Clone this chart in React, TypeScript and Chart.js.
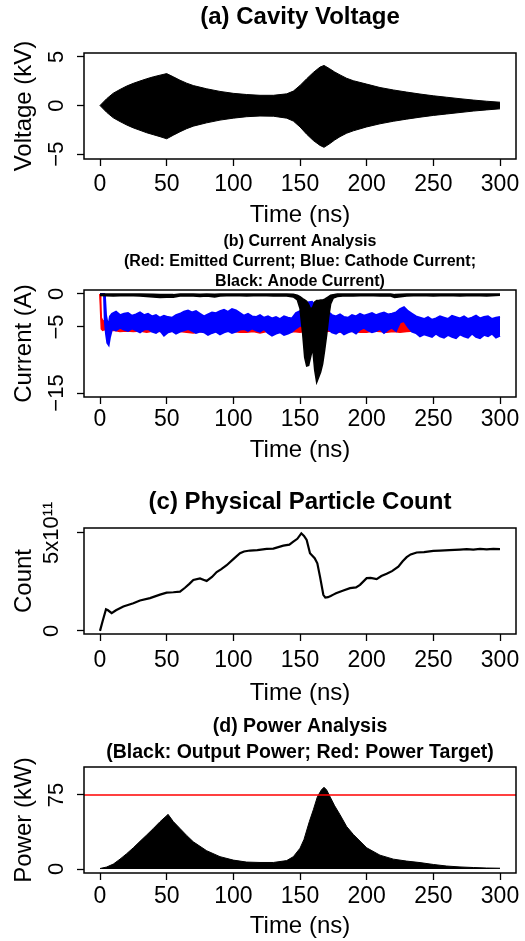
import React, { useEffect, useRef } from 'react';
import { Chart, registerables } from 'chart.js';

Chart.register(...registerables);

const FONT = "'Liberation Sans', Arial, Helvetica, sans-serif";

// ---------- shared x axis ----------
const X_MIN = -12;
const X_MAX = 312;
const X_TICKS = [0, 50, 100, 150, 200, 250, 300];

// ---------- (a) cavity voltage envelope (kV) ----------
const VOLT_T = [0, 5, 10, 15, 20, 25, 30, 35, 40, 45, 50, 55, 60, 65, 70, 80, 90, 100, 110, 120, 130, 140, 145, 150, 155, 160, 165, 168, 172, 176, 180, 185, 190, 200, 210, 220, 230, 240, 250, 260, 270, 280, 290, 300];
const VOLT_HI = [0, 0.7, 1.27, 1.65, 2.0, 2.28, 2.52, 2.75, 2.95, 3.12, 3.28, 2.95, 2.6, 2.3, 2.05, 1.72, 1.45, 1.25, 1.13, 1.05, 1.05, 1.2, 1.48, 2.06, 2.75, 3.4, 3.95, 4.12, 3.8, 3.45, 3.15, 2.8, 2.55, 2.2, 1.85, 1.6, 1.38, 1.18, 1.0, 0.85, 0.7, 0.56, 0.44, 0.34];
const VOLT_LO = [0, -0.7, -1.27, -1.65, -2.0, -2.3, -2.55, -2.8, -3.0, -3.2, -3.42, -3.05, -2.7, -2.38, -2.12, -1.78, -1.5, -1.3, -1.15, -1.08, -1.1, -1.3, -1.6, -2.2, -2.95, -3.6, -4.1, -4.3, -3.95, -3.55, -3.2, -2.85, -2.6, -2.2, -1.88, -1.62, -1.4, -1.2, -1.02, -0.87, -0.72, -0.57, -0.45, -0.34];
const VOLT_TICKS = [-5, 0, 5];

// ---------- (b) currents (A) ----------
const EMIT_T = [0, 0.4, 1, 2, 3.5, 5, 10, 15, 20, 25, 30, 35, 40, 45, 50, 55, 60, 65, 70, 75, 80, 85, 90, 95, 100, 105, 110, 115, 120, 125, 130, 135, 140, 145, 150, 155, 160, 165, 170, 175, 180, 185, 190, 195, 200, 205, 210, 215, 220, 225, 230, 235, 240, 245, 250, 255, 260, 265, 270, 275, 280, 285, 290, 295, 300];
const EMIT_HI = [0, -1.0, -3.6, -4.0, -4.2, -4.2, -4.2, -4.3, -4.2, -4.2, -4.3, -4.2, -4.2, -4.3, -4.2, -4.2, -4.2, -4.1, -4.2, -4.2, -4.3, -4.2, -4.2, -4.2, -4.3, -4.2, -4.2, -4.2, -4.3, -4.2, -4.2, -4.2, -4.3, -4.1, -3.9, -4.0, -4.2, -4.2, -4.2, -4.3, -4.2, -4.2, -4.2, -4.1, -4.2, -4.2, -4.2, -4.2, -4.1, -3.8, -4.0, -4.2, -4.2, -4.3, -4.2, -4.2, -4.3, -4.2, -4.2, -4.2, -4.3, -4.2, -4.2, -4.2, -4.2];
const EMIT_LO = [0, -2.5, -5.3, -5.5, -5.4, -5.6, -5.5, -5.7, -5.6, -5.7, -5.6, -5.8, -5.6, -5.7, -5.8, -5.6, -5.7, -5.8, -5.9, -5.7, -5.8, -5.7, -5.8, -5.6, -5.7, -5.8, -5.8, -5.7, -5.9, -5.7, -5.8, -5.7, -5.8, -5.7, -5.8, -5.6, -5.7, -5.8, -5.6, -5.7, -5.8, -5.6, -5.7, -5.8, -5.8, -5.6, -5.7, -5.8, -5.7, -5.8, -5.7, -5.6, -5.7, -5.6, -5.7, -5.6, -5.7, -5.6, -5.7, -5.6, -5.7, -5.6, -5.7, -5.6, -5.7];

const CATH_T = [0, 3, 3.6, 4.5, 5.5, 6.5, 7.5, 9, 12, 15, 18, 21, 24, 27, 30, 33, 36, 39, 42, 45, 48, 51, 54, 57, 60, 63, 66, 69, 72, 75, 78, 81, 84, 87, 90, 93, 96, 99, 102, 105, 108, 111, 114, 117, 120, 123, 126, 129, 132, 135, 138, 141, 144, 147, 150, 153, 156, 159, 162, 165, 168, 171, 174, 177, 180, 183, 186, 189, 192, 195, 198, 201, 204, 207, 210, 213, 216, 219, 222, 225, 228, 231, 234, 237, 240, 243, 246, 249, 252, 255, 258, 261, 264, 267, 270, 273, 276, 279, 282, 285, 288, 291, 294, 297, 300];
const CATH_HI = [0, 0, -0.1, -3.2, -4.3, -4.6, -3.4,
  -3.0, -2.7, -3.2, -3.0, -2.9, -3.3, -3.1, -2.8, -3.2, -3.0,
  -3.4, -3.2, -3.6, -3.3, -3.5, -3.6, -3.2, -3.0, -2.7, -2.5,
  -2.8, -2.6, -3.0, -3.4, -3.1, -2.8, -2.9, -2.6, -2.4, -2.7,
  -2.3, -2.5, -2.9, -3.3, -3.0, -3.4, -3.5, -3.2, -3.6, -3.4,
  -3.7, -3.5, -3.8, -3.4, -3.6, -3.7, -2.9, -2.6, -2.0, -1.3,
  -1.2, -1.8, -2.3, -2.0, -2.7, -3.2, -3.4, -3.1, -3.5, -3.6,
  -3.2, -3.4, -3.0, -3.3, -3.1, -2.9, -3.2, -3.0, -2.8, -3.1,
  -3.0, -2.8, -2.3, -2.0, -2.6, -3.0, -3.4, -3.6, -3.8, -3.5,
  -3.9, -3.7, -3.4, -3.6, -3.8, -3.3, -3.5, -3.7, -3.4, -3.8,
  -3.6, -3.3, -3.7, -3.5, -3.4, -3.8, -3.6, -3.5];
const CATH_LO = [0, 0, -4.0, -6.0, -7.4, -7.7, -6.5,
  -5.3, -5.5, -5.1, -5.4, -5.6, -5.2, -5.5, -5.8, -5.4, -5.3,
  -5.7, -5.9, -5.5, -6.3, -5.8, -5.6, -6.0, -5.7, -5.5, -5.3,
  -5.6, -5.9, -5.7, -5.8, -6.2, -5.9, -5.7, -6.1, -5.8, -5.6,
  -5.9, -5.7, -5.4, -5.3, -5.6, -5.2, -5.5, -5.7, -5.3, -5.9,
  -6.3, -6.0, -5.8, -6.2, -6.0, -5.7, -5.2, -4.8, -5.0, -4.6,
  -4.9, -5.3, -5.1, -5.5, -5.3, -5.8, -6.0, -5.6, -6.1, -5.8,
  -5.6, -6.0, -5.4, -5.1, -5.5, -5.8, -5.6, -5.3, -5.9, -5.4,
  -5.1, -5.6, -4.3, -4.1, -5.0, -5.7, -5.9, -6.4, -6.1, -6.3,
  -6.5, -6.0, -6.4, -6.6, -6.2, -6.5, -6.7, -6.1, -6.4, -6.6,
  -6.0, -6.5, -6.7, -6.2, -6.4, -6.0, -6.6, -6.3];

const ANODE_T = [0, 10, 20, 30, 40, 45, 50, 55, 60, 70, 75, 80, 86, 90, 100, 110, 120, 130, 140, 145, 148, 150, 152, 153.5, 155, 156.5, 158, 159.5, 161, 162.5, 164, 165.5, 167, 168.5, 170, 171.5, 173, 175, 178, 182, 190, 200, 210, 218, 221, 230, 240, 250, 260, 270, 280, 290, 300];
const ANODE_HI = [0, 0, 0, 0, -0.05, -0.1, -0.1, -0.1, 0, 0, -0.05, 0, -0.05, 0, 0, 0, 0, 0, 0, -0.05, -0.2, -0.4, -0.7, -0.9, -1.1, -1.6, -2.3, -2.0, -1.2, -1.0, -1.0, -0.9, -0.9, -0.8, -0.6, -0.4, -0.2, -0.1, 0, 0, 0, 0, 0, 0, -0.1, 0, 0, 0, 0, 0, 0, 0, 0];
const ANODE_LO = [-0.25, -0.3, -0.25, -0.3, -0.45, -0.55, -0.5, -0.5, -0.3, -0.3, -0.4, -0.3, -0.45, -0.3, -0.25, -0.3, -0.25, -0.3, -0.3, -0.45, -0.9, -2.2, -6.0, -9.6, -10.9, -10.8, -9.5, -8.2, -11.5, -13.4, -12.6, -11.8, -10.6, -8.5, -6.2, -3.5, -1.5, -0.6, -0.4, -0.3, -0.3, -0.25, -0.3, -0.3, -0.55, -0.3, -0.25, -0.3, -0.25, -0.3, -0.25, -0.3, -0.2];
const CURRENT_TICKS = [-15, -5, 0];

// ---------- (c) physical particle count ----------
const COUNT_T = [0, 2, 4.5, 6, 8.75, 12, 17.5, 25, 30, 37.5, 45, 50, 55, 60, 63.75, 67, 70, 75, 78, 80, 84, 87.5, 91, 95, 100, 105, 108, 112.5, 118, 125, 130, 137.5, 142, 145, 148, 151, 153, 155, 157.5, 161, 163, 165, 167.5, 169, 171, 173, 175, 177, 182, 187.5, 192, 195, 200, 203, 207.5, 211, 215, 219, 223.75, 227, 230, 233, 237.5, 243, 250, 255, 262, 270, 275, 280, 285, 290, 295, 300];
const COUNT = [0, 0.5e11, 1.1e11, 1.05e11, 0.9e11, 1.05e11, 1.24e11, 1.41e11, 1.55e11, 1.67e11, 1.85e11, 1.95e11, 1.97e11, 2.0e11, 2.2e11, 2.4e11, 2.6e11, 2.68e11, 2.6e11, 2.55e11, 2.75e11, 3.0e11, 3.15e11, 3.35e11, 3.66e11, 3.96e11, 4.05e11, 4.1e11, 4.12e11, 4.18e11, 4.2e11, 4.35e11, 4.4e11, 4.55e11, 4.7e11, 4.98e11, 4.85e11, 4.64e11, 3.96e11, 3.71e11, 3.45e11, 2.77e11, 1.84e11, 1.7e11, 1.72e11, 1.78e11, 1.85e11, 1.92e11, 2.05e11, 2.18e11, 2.22e11, 2.35e11, 2.69e11, 2.7e11, 2.64e11, 2.8e11, 2.91e11, 3.05e11, 3.28e11, 3.55e11, 3.76e11, 3.9e11, 4.0e11, 4.02e11, 4.08e11, 4.1e11, 4.12e11, 4.15e11, 4.17e11, 4.15e11, 4.18e11, 4.16e11, 4.18e11, 4.17e11];
const COUNT_TICKS = [0, 5e11];

// ---------- (d) power (kW) ----------
const POWER_T = [0, 5, 10, 15, 20, 25, 30, 35, 40, 45, 50, 51, 55, 60, 65, 70, 80, 90, 100, 110, 120, 130, 140, 145, 150, 153, 157, 160, 163, 166, 168, 170, 173, 176, 180, 185, 190, 200, 210, 220, 230, 240, 250, 260, 270, 280, 290, 300];
const POWER_KW = [0.5, 2, 5, 10, 15.5, 21.5, 28, 34.4, 41, 47.9, 54, 55.4, 48, 41, 34, 27.5, 18.5, 12.5, 9, 7, 6.6, 6.6, 8.5, 12.5, 21, 30, 48, 60, 73, 80, 82.8, 80, 72, 64, 55, 43, 35, 21.5, 14, 10, 8, 6.5, 4.6, 3, 2.1, 1.5, 1.0, 0.8];
const POWER_TARGET = 75;
const POWER_TICKS = [0, 75];

// ---------- helpers ----------
const PLOT_LEFT = 84;
const PLOT_RIGHT_PAD = 9;
const TICK_LEN = 7;
const Y_TICK_FONT = 22;
const X_TICK_FONT = 23;
const AXIS_TITLE_FONT = 24;

function pts(xs: number[], ys: number[]) {
  return xs.map((x, i) => ({ x, y: ys[i] }));
}

const SUP: Record<string, string> = { '0': '\u2070', '1': '\u00b9', '2': '\u00b2', '3': '\u00b3', '4': '\u2074', '5': '\u2075', '6': '\u2076', '7': '\u2077', '8': '\u2078', '9': '\u2079' };

function fmtTick(v: number): string {
  if (v === 0) return '0';
  const a = Math.abs(v);
  let s: string;
  if (a >= 1e6) {
    const e = Math.floor(Math.log10(a) + 1e-9);
    const m = Math.round((a / Math.pow(10, e)) * 100) / 100;
    s = `${m}x10${String(e).split('').map((c) => SUP[c]).join('')}`;
  } else {
    s = String(a);
  }
  return v < 0 ? '\u2212' + s : s;
}

function measureWidest(labels: string[], size: number) {
  const c = document.createElement('canvas').getContext('2d') as CanvasRenderingContext2D;
  c.font = `${size}px ${FONT}`;
  return Math.max(...labels.map((l) => c.measureText(l).width));
}

const boxPlugin = {
  id: 'rbox',
  afterDraw(chart: any) {
    const { ctx, chartArea: a } = chart;
    ctx.save();
    ctx.strokeStyle = '#000';
    ctx.lineWidth = 1.5;
    ctx.strokeRect(a.left, a.top, a.right - a.left, a.bottom - a.top);
    ctx.restore();
  },
};

interface PanelSpec {
  title: string[];
  titleSize: number;
  titleLH: number;
  titlePad: [number, number];
  yMin: number;
  yMax: number;
  yTicks: number[];
  yLabel: string;
  yTickCenter: number;
  xH: number;
  xTickPad: number;
  xTitlePad: number;
}

function makeOptions(p: PanelSpec): any {
  const widest = measureWidest(p.yTicks.map(fmtTick), Y_TICK_FONT);
  const yPad = PLOT_LEFT - TICK_LEN - p.yTickCenter - widest / 2;
  const grid = {
    display: true,
    drawOnChartArea: false,
    drawTicks: true,
    tickLength: TICK_LEN,
    tickWidth: 1.3,
    tickColor: '#000',
    color: '#000',
  };
  return {
    responsive: false,
    maintainAspectRatio: false,
    animation: false,
    devicePixelRatio: 1,
    events: [],
    layout: { padding: { left: 0, right: PLOT_RIGHT_PAD, top: 0, bottom: 0 } },
    plugins: {
      legend: { display: false },
      tooltip: { enabled: false },
      title: {
        display: true,
        fullSize: false,
        text: p.title,
        color: '#000',
        font: { family: FONT, size: p.titleSize, weight: 'bold', lineHeight: p.titleLH / p.titleSize },
        padding: { top: p.titlePad[0], bottom: p.titlePad[1] },
      },
    },
    elements: { point: { radius: 0 }, line: { tension: 0 } },
    scales: {
      x: {
        type: 'linear',
        min: X_MIN,
        max: X_MAX,
        afterBuildTicks: (s: any) => {
          s.ticks = X_TICKS.map((v) => ({ value: v }));
        },
        afterFit: (s: any) => {
          s.height = p.xH;
          s.paddingLeft = 0;
          s.paddingRight = 0;
        },
        ticks: {
          autoSkip: false,
          minRotation: 0,
          maxRotation: 0,
          color: '#000',
          padding: p.xTickPad,
          font: { family: FONT, size: X_TICK_FONT },
          callback: (v: any) => fmtTick(Number(v)),
        },
        grid,
        border: { display: false },
        title: {
          display: true,
          text: 'Time (ns)',
          color: '#000',
          font: { family: FONT, size: AXIS_TITLE_FONT },
          padding: { top: 0, bottom: p.xTitlePad },
        },
      },
      y: {
        type: 'linear',
        min: p.yMin,
        max: p.yMax,
        afterBuildTicks: (s: any) => {
          s.ticks = p.yTicks.map((v) => ({ value: v }));
        },
        afterFit: (s: any) => {
          s.width = PLOT_LEFT;
          s.paddingTop = 0;
          s.paddingBottom = 0;
        },
        ticks: {
          autoSkip: false,
          minRotation: 90,
          maxRotation: 90,
          crossAlign: 'center',
          color: '#000',
          padding: yPad,
          font: { family: FONT, size: Y_TICK_FONT },
          callback: (v: any) => fmtTick(Number(v)),
        },
        grid,
        border: { display: false },
        title: {
          display: true,
          text: p.yLabel,
          color: '#000',
          font: { family: FONT, size: AXIS_TITLE_FONT },
          padding: { top: 9.6, bottom: 0 },
        },
      },
    },
  };
}

function buildA(): any {
  return {
    type: 'line',
    data: {
      datasets: [
        { data: pts(VOLT_T, VOLT_HI), borderColor: '#000', backgroundColor: '#000', borderWidth: 1, fill: '+1' },
        { data: pts(VOLT_T, VOLT_LO), borderColor: '#000', backgroundColor: '#000', borderWidth: 1, fill: false },
      ],
    },
    options: makeOptions({
      title: ['(a) Cavity Voltage'], titleSize: 24, titleLH: 28.8, titlePad: [2.6, 21.6],
      yMin: -5.5, yMax: 5.4, yTicks: VOLT_TICKS, yLabel: 'Voltage (kV)', yTickCenter: 57,
      xH: 71, xTickPad: 5.2, xTitlePad: 0.6,
    }),
    plugins: [boxPlugin],
  };
}

function buildB(): any {
  return {
    type: 'line',
    data: {
      datasets: [
        { data: pts(ANODE_T, ANODE_HI), borderColor: '#000', backgroundColor: '#000', borderWidth: 1.5, fill: '+1', order: 1 },
        { data: pts(ANODE_T, ANODE_LO), borderColor: '#000', backgroundColor: '#000', borderWidth: 1.5, fill: false, order: 1 },
        { data: pts(CATH_T, CATH_HI), borderColor: '#0000ff', backgroundColor: '#0000ff', borderWidth: 2, fill: '+1', order: 2 },
        { data: pts(CATH_T, CATH_LO), borderColor: '#0000ff', backgroundColor: '#0000ff', borderWidth: 2, fill: false, order: 2 },
        { data: pts(EMIT_T, EMIT_HI), borderColor: '#ff0000', backgroundColor: '#ff0000', borderWidth: 1.5, fill: '+1', order: 3 },
        { data: pts(EMIT_T, EMIT_LO), borderColor: '#ff0000', backgroundColor: '#ff0000', borderWidth: 1.5, fill: false, order: 3 },
      ],
    },
    options: makeOptions({
      title: ['(b) Current Analysis', '(Red: Emitted Current; Blue: Cathode Current;', 'Black: Anode Current)'],
      titleSize: 16, titleLH: 20, titlePad: [2, -2],
      yMin: -15.6, yMax: 0.6, yTicks: CURRENT_TICKS, yLabel: 'Current (A)', yTickCenter: 57,
      xH: 68, xTickPad: 2.2, xTitlePad: 0.6,
    }),
    plugins: [boxPlugin],
  };
}

function buildC(): any {
  return {
    type: 'line',
    data: {
      datasets: [
        { data: pts(COUNT_T, COUNT), borderColor: '#000', borderWidth: 2.2, fill: false },
      ],
    },
    options: makeOptions({
      title: ['(c) Physical Particle Count'], titleSize: 24, titleLH: 28.8, titlePad: [22.6, 11.6],
      yMin: -0.16e11, yMax: 5.25e11, yTicks: COUNT_TICKS, yLabel: 'Count', yTickCenter: 52,
      xH: 76, xTickPad: 6.2, xTitlePad: 2.6,
    }),
    plugins: [boxPlugin],
  };
}

function buildD(): any {
  return {
    type: 'line',
    data: {
      datasets: [
        { data: [{ x: X_MIN, y: POWER_TARGET }, { x: X_MAX, y: POWER_TARGET }], borderColor: '#ff0000', borderWidth: 1.5, fill: false, order: 0 },
        { data: pts(POWER_T, POWER_KW), borderColor: '#000', backgroundColor: '#000', borderWidth: 1, fill: 'origin', order: 1 },
      ],
    },
    options: makeOptions({
      title: ['(d) Power Analysis', '(Black: Output Power; Red: Power Target)'],
      titleSize: 19.5, titleLH: 26, titlePad: [4, 1],
      yMin: -4.05, yMax: 103.3, yTicks: POWER_TICKS, yLabel: 'Power (kW)', yTickCenter: 57,
      xH: 68, xTickPad: 3.2, xTitlePad: 0,
    }),
    plugins: [boxPlugin],
  };
}

function Panel({ top, height, build }: { top: number; height: number; build: () => any }) {
  const ref = useRef<HTMLCanvasElement>(null);
  useEffect(() => {
    const chart = new Chart(ref.current as HTMLCanvasElement, build());
    return () => chart.destroy();
  }, []);
  return (
    <canvas
      ref={ref}
      width={525}
      height={height}
      style={{ position: 'absolute', left: 0, top, width: 525, height, display: 'block' }}
    />
  );
}

export default function App() {
  return (
    <div style={{ position: 'absolute', left: 0, top: 0, width: 525, height: 941, background: '#fff', overflow: 'hidden' }}>
      <Panel top={0} height={230} build={buildA} />
      <Panel top={230} height={235} build={buildB} />
      <Panel top={465} height={245} build={buildC} />
      <Panel top={710} height={231} build={buildD} />
    </div>
  );
}
